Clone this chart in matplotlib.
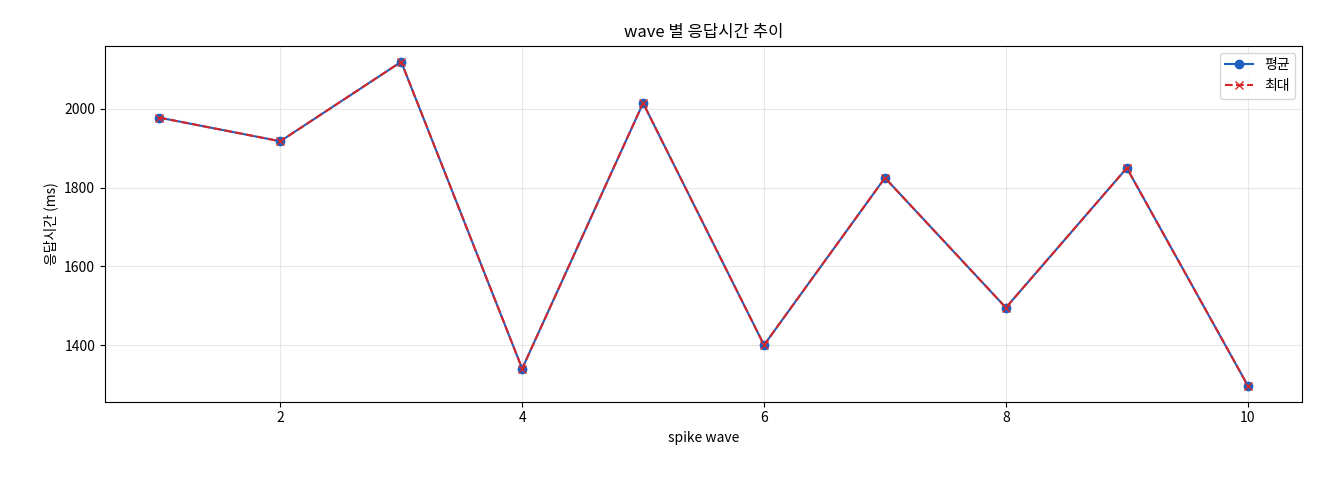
import matplotlib
matplotlib.use("Agg")
import matplotlib.pyplot as plt

plt.rcParams['font.family'] = ['Noto Sans CJK KR', 'DejaVu Sans']
plt.rcParams['axes.unicode_minus'] = False

waves = [1, 2, 3, 4, 5, 6, 7, 8, 9, 10]
avg_ms = [1978, 1918, 2120, 1340, 2015, 1400, 1825, 1495, 1850, 1297]
max_ms = [1978, 1918, 2120, 1340, 2015, 1400, 1825, 1495, 1850, 1297]

fig = plt.figure(figsize=(13.2, 4.8), dpi=100)
ax = fig.add_axes([0.0795, 0.163, 0.907, 0.742])
ax.plot(waves, avg_ms, marker='o', color='#1f5fbf', label='평균', markersize=6)
ax.plot(waves, max_ms, marker='x', linestyle='--', color='#d62728', label='최대', markersize=6)
ax.set_title('wave 별 응답시간 추이', fontsize=12)
ax.set_xlabel('spike wave', fontsize=10)
ax.set_ylabel('응답시간 (ms)', fontsize=10)
ax.grid(True, alpha=0.3)
ax.legend(loc='upper right')
fig.savefig('out.png', dpi=100)
